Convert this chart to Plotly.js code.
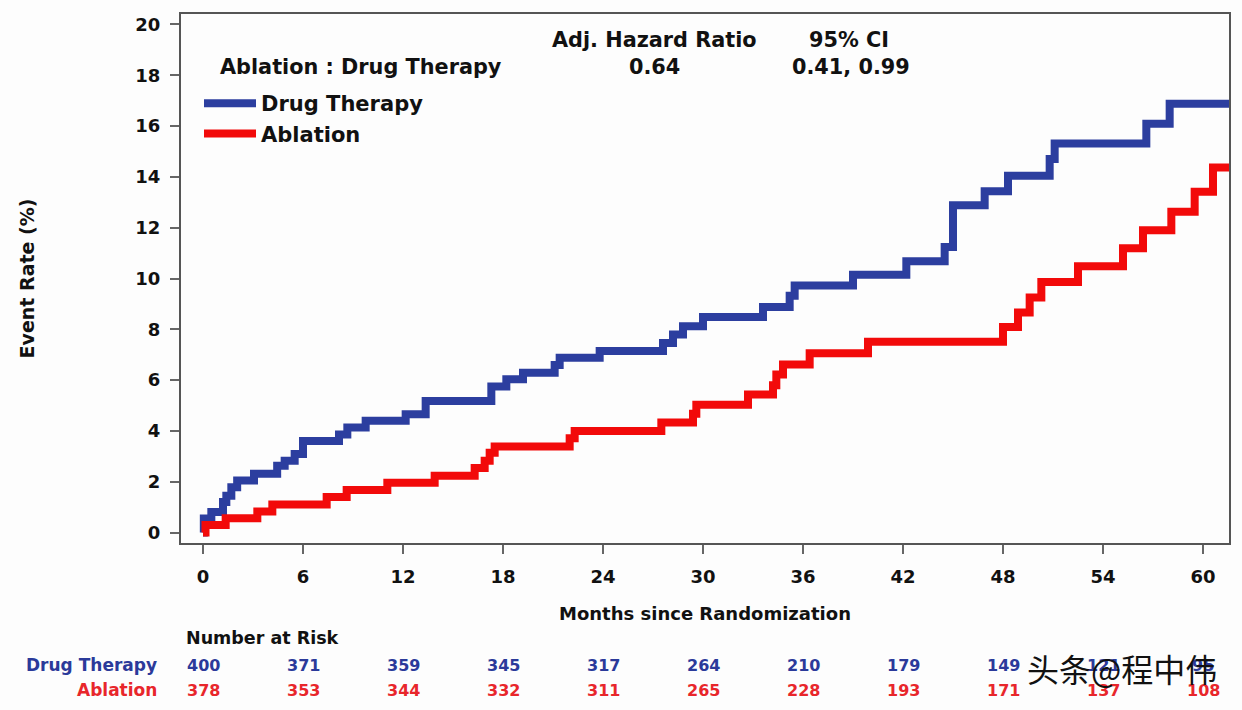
<!DOCTYPE html>
<html>
<head>
<meta charset="utf-8">
<script src="https://cdn.plot.ly/plotly-3.0.1.min.js"></script>
<style>html,body{margin:0;padding:0;background:#fff;}#chart{width:1242px;height:710px;}</style>
</head>
<body>
<div id="chart"></div>
<script>
// Step-curve data (month of step, cumulative event rate %)
const drugMonths = [0, 0.05, 0.5, 1.2, 1.4, 1.7, 2.05, 3.06, 4.45, 4.9, 5.5, 6.0, 8.16, 8.66, 9.76, 12.16, 13.36, 17.3, 18.2, 19.2, 21.1, 21.4, 23.8, 27.6, 28.2, 28.8, 30.0, 33.6, 35.2, 35.5, 39.0, 42.2, 44.5, 45.0, 46.9, 48.3, 50.8, 51.1, 56.6, 58.0, 61.7];
const drugRate   = [0, 0.55, 0.81, 1.2, 1.45, 1.78, 2.05, 2.32, 2.63, 2.83, 3.09, 3.6, 3.86, 4.14, 4.4, 4.66, 5.18, 5.75, 6.03, 6.29, 6.6, 6.88, 7.15, 7.46, 7.8, 8.12, 8.48, 8.88, 9.32, 9.72, 10.15, 10.68, 11.24, 12.88, 13.43, 14.04, 14.7, 15.31, 16.09, 16.88, 16.88];
const ablMonths  = [0, 0.15, 1.36, 3.26, 4.16, 7.42, 8.62, 11.06, 13.9, 16.3, 16.9, 17.2, 17.5, 22.0, 22.3, 27.5, 29.4, 29.6, 32.7, 34.2, 34.4, 34.8, 36.4, 39.9, 48.0, 48.9, 49.6, 50.3, 52.5, 55.2, 56.4, 58.1, 59.5, 60.6, 61.7];
const ablRate    = [0, 0.3, 0.56, 0.83, 1.11, 1.40, 1.68, 1.96, 2.24, 2.54, 2.83, 3.14, 3.39, 3.71, 4.0, 4.33, 4.68, 5.03, 5.43, 5.8, 6.22, 6.62, 7.06, 7.51, 8.09, 8.66, 9.25, 9.86, 10.48, 11.19, 11.9, 12.63, 13.41, 14.37, 14.37];

// Number at risk table
const riskMonths = [0, 6, 12, 18, 24, 30, 36, 42, 48, 54, 60];
const drugRisk   = [400, 371, 359, 345, 317, 264, 210, 179, 149, 121, 95];
const ablRisk    = [378, 353, 344, 332, 311, 265, 228, 193, 171, 137, 108];

// Hazard ratio box
const hrHeader = ["Adj. Hazard Ratio", "95% CI"];
const hrRow    = ["Ablation : Drug Therapy", "0.64", "0.41, 0.99"];

const BLUE = "#2c3e9f", RED = "#f20a0a";
const BLUE_T = "#2b3a9a", RED_T = "#e8262b";
const FONT = "DejaVu Sans, Verdana, sans-serif";

const traces = [
  {x: drugMonths, y: drugRate, type: "scatter", mode: "lines", name: "Drug Therapy",
   line: {shape: "hv", color: BLUE, width: 8}, cliponaxis: false},
  {x: ablMonths, y: ablRate, type: "scatter", mode: "lines", name: "Ablation",
   line: {shape: "hv", color: RED, width: 8}, cliponaxis: false}
];

const H = 529; // plot height px
function py(p) { return (543 - p) / H; }
function px(p) { return (p - 181) / 1048; }

const ann = [];
const hdrFont = {family: FONT, size: 20.8, color: "#111", weight: "bold"};
ann.push({text: hrHeader[0], xref: "paper", yref: "paper", x: px(654), y: py(40), showarrow: false, font: hdrFont, xanchor: "center", yanchor: "middle"});
ann.push({text: hrHeader[1], xref: "paper", yref: "paper", x: px(849), y: py(40), showarrow: false, font: hdrFont, xanchor: "center", yanchor: "middle"});
ann.push({text: hrRow[0], xref: "paper", yref: "paper", x: px(361), y: py(67), showarrow: false, font: hdrFont, xanchor: "center", yanchor: "middle"});
ann.push({text: hrRow[1], xref: "paper", yref: "paper", x: px(654), y: py(67), showarrow: false, font: hdrFont, xanchor: "center", yanchor: "middle"});
ann.push({text: hrRow[2], xref: "paper", yref: "paper", x: px(851), y: py(67), showarrow: false, font: hdrFont, xanchor: "center", yanchor: "middle"});

// risk table
ann.push({text: "Number at Risk", xref: "paper", yref: "paper", x: px(184), y: py(638), xanchor: "left", yanchor: "middle", showarrow: false, font: {family: FONT, size: 17.5, color: "#111", weight: "bold"}});
ann.push({text: "Drug Therapy", xref: "paper", yref: "paper", x: px(159), y: py(665), xanchor: "right", yanchor: "middle", showarrow: false, font: {family: FONT, size: 17, color: BLUE_T, weight: "bold"}});
ann.push({text: "Ablation", xref: "paper", yref: "paper", x: px(159), y: py(690), xanchor: "right", yanchor: "middle", showarrow: false, font: {family: FONT, size: 17, color: RED_T, weight: "bold"}});
riskMonths.forEach((m, i) => {
  ann.push({text: String(drugRisk[i]), xref: "x", yref: "paper", x: m, y: py(665), xanchor: "center", yanchor: "middle", showarrow: false, font: {family: FONT, size: 16, color: BLUE_T, weight: "bold"}});
  ann.push({text: String(ablRisk[i]), xref: "x", yref: "paper", x: m, y: py(690), xanchor: "center", yanchor: "middle", showarrow: false, font: {family: FONT, size: 16, color: RED_T, weight: "bold"}});
});
// watermark
ann.push({text: "头条@程中伟", xref: "paper", yref: "paper", x: px(1122), y: py(668), xanchor: "center", yanchor: "middle", showarrow: false, font: {family: "Noto Sans CJK SC", size: 32, color: "#111"}});

const layout = {
  width: 1242, height: 710,
  margin: {l: 181, r: 13, t: 14, b: 167},
  paper_bgcolor: "#fdfdfd", plot_bgcolor: "#fdfdfd",
  font: {family: FONT, size: 18, color: "#111"},
  showlegend: true,
  legend: {x: px(199), y: py(83), xanchor: "left", yanchor: "top", bgcolor: "rgba(0,0,0,0)",
           font: {family: FONT, size: 21, color: "#111", weight: "bold"}, itemwidth: 52, tracegroupgap: 0},
  xaxis: {range: [-1.32, 61.56], tickvals: riskMonths, ticks: "outside", ticklen: 9, tickwidth: 2, tickcolor: "#666",
          ticklabelstandoff: 7, showgrid: false, zeroline: false, showline: true, linecolor: "#555", linewidth: 2, mirror: true,
          tickfont: {family: FONT, size: 18, color: "#111", weight: "bold"},
          title: {text: "Months since Randomization", standoff: 22, font: {family: FONT, size: 18, color: "#111", weight: "bold"}}},
  yaxis: {range: [-0.41, 20.41], tickvals: [0, 2, 4, 6, 8, 10, 12, 14, 16, 18, 20], ticks: "outside", ticklen: 9, tickwidth: 2, tickcolor: "#666",
          ticklabelstandoff: 6, showgrid: false, zeroline: false, showline: true, linecolor: "#555", linewidth: 2, mirror: true,
          tickfont: {family: FONT, size: 18, color: "#111", weight: "bold"},
          title: {text: "Event Rate (%)", standoff: 96, font: {family: FONT, size: 19, color: "#111", weight: "bold"}}},
  annotations: ann
};

Plotly.newPlot("chart", traces, layout, {displayModeBar: false, staticPlot: true});
</script>
</body>
</html>
